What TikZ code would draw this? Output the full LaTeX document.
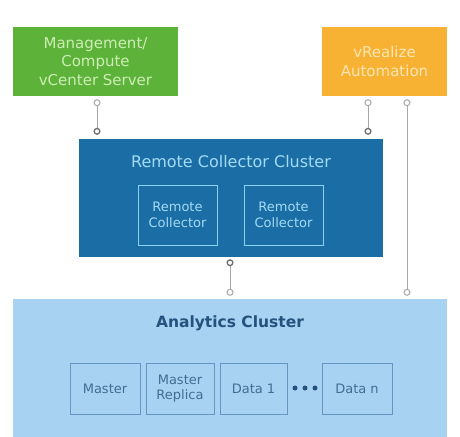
\documentclass[tikz,border=0pt]{standalone}
\usepackage{fontspec}
\setmainfont{DejaVu Sans}
\usetikzlibrary{arrows.meta}
\definecolor{mgreen}{HTML}{5DB33A}
\definecolor{mgreentxt}{HTML}{CDEDB5}
\definecolor{morange}{HTML}{F8B233}
\definecolor{morangetxt}{HTML}{FDE6B3}
\definecolor{dblue}{HTML}{1B6EA5}
\definecolor{dbluetxt}{HTML}{A3DAF5}
\definecolor{dblueline}{HTML}{8CD2F2}
\definecolor{lblue}{HTML}{A8D2F1}
\definecolor{lblueline}{HTML}{6595C2}
\definecolor{navytxt}{HTML}{23527E}
\definecolor{connline}{HTML}{A8A8A8}
\definecolor{conndark}{HTML}{6E6E6E}
\tikzset{
  topbox/.style={rectangle, inner sep=0pt, align=center, font=\fontsize{15}{18.5}\selectfont},
  inbox/.style={rectangle, inner sep=0pt, align=center, font=\fontsize{13}{15.5}\selectfont},
  conn/.style={draw=connline, line width=1pt},
  opc/.tip={Circle[open, length=7pt, width=7pt, line width=1pt]},
  dkc/.tip={Circle[open, length=7pt, width=7pt, line width=1.3pt, color=conndark]},
  dotdot/.style={circle, fill=navytxt, inner sep=0pt, minimum size=5pt}
}
\begin{document}
\begin{tikzpicture}[x=1pt,y=-1pt]
\useasboundingbox (0,0) rectangle (460,436);
\fill[white] (0,0) rectangle (460,436);
% top boxes
\node[topbox, fill=mgreen, text=mgreentxt, minimum width=165pt, minimum height=69pt] (mgmt) at (95.5,61.5) {Management/\\Compute\\vCenter Server};
\node[topbox, fill=morange, text=morangetxt, minimum width=125pt, minimum height=69pt] (vra) at (384.5,61.5) {vRealize\\Automation};
% remote collector cluster
\node[rectangle, fill=dblue, minimum width=304pt, minimum height=118pt] (rcc) at (231,198) {};
\node[text=dbluetxt, font=\fontsize{16}{18}\selectfont] (rcct) at (231,162) {Remote Collector Cluster};
\node[inbox, draw=dblueline, line width=1pt, text=dbluetxt, minimum width=79pt, minimum height=60pt] (rc1) at (177.5,215) {Remote\\Collector};
\node[inbox, draw=dblueline, line width=1pt, text=dbluetxt, minimum width=79pt, minimum height=60pt] (rc2) at (283.5,215) {Remote\\Collector};
% analytics cluster
\node[rectangle, fill=lblue, minimum width=434pt, minimum height=140pt] (ac) at (230,369) {};
\node[text=navytxt, font=\fontsize{15.5}{18}\selectfont\bfseries] (act) at (230,323) {Analytics Cluster};
\node[inbox, draw=lblueline, line width=1pt, text=navytxt!85, minimum width=70pt, minimum height=51pt] (master) at (105,388.5) {Master};
\node[inbox, draw=lblueline, line width=1pt, text=navytxt!85, minimum width=68pt, minimum height=51pt] (replica) at (180,388.5) {Master\\Replica};
\node[inbox, draw=lblueline, line width=1pt, text=navytxt!85, minimum width=67pt, minimum height=51pt] (data1) at (253.5,388.5) {Data 1};
\node[inbox, draw=lblueline, line width=1pt, text=navytxt!85, minimum width=70pt, minimum height=51pt] (datan) at (357,388.5) {Data n};
\node[dotdot] (d1) at (295,388) {};
\node[dotdot] (d2) at (305,388) {};
\node[dotdot] (d3) at (315,388) {};
% connectors
\coordinate (xa) at (97,0);
\coordinate (xb) at (368,0);
\coordinate (xc) at (407,0);
\coordinate (xd) at (230,0);
\draw[conn, {opc}-{dkc}, shorten <=3pt, shorten >=4pt] (mgmt.south -| xa) -- (rcc.north -| xa);
\draw[conn, {opc}-{dkc}, shorten <=3pt, shorten >=4pt] (vra.south -| xb) -- (rcc.north -| xb);
\draw[conn, {opc}-{opc}, shorten <=3pt, shorten >=3pt] (vra.south -| xc) -- (ac.north -| xc);
\draw[conn, {dkc}-{opc}, shorten <=2pt, shorten >=3pt] (rcc.south -| xd) -- (ac.north -| xd);
\end{tikzpicture}
\end{document}
